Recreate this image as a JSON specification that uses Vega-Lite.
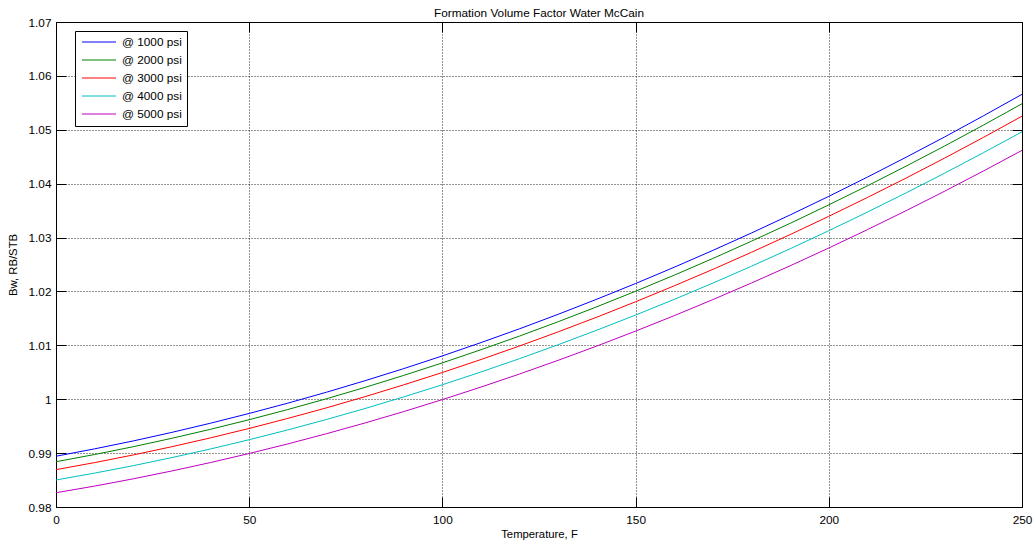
{
  "$schema": "https://vega.github.io/schema/vega-lite/v6.json",
  "autosize": "none",
  "width": 966,
  "height": 485,
  "padding": {"left": 56, "top": 22, "right": 12, "bottom": 38},
  "background": "white",
  "title": {
    "text": "Formation Volume Factor Water McCain",
    "font": "Liberation Sans",
    "fontSize": 11.8,
    "fontWeight": "normal",
    "color": "black",
    "anchor": "middle",
    "baseline": "alphabetic",
    "offset": -12
  },
  "config": {
    "view": {"stroke": "black", "strokeWidth": 1},
    "axis": {
      "labelFont": "Liberation Sans",
      "labelFontSize": 11.8,
      "labelColor": "black",
      "labelFlush": false,
      "titleFont": "Liberation Sans",
      "titleFontSize": 11.3,
      "titleFontWeight": "normal",
      "titleColor": "black",
      "domain": false,
      "tickColor": "black",
      "tickSize": -10,
      "tickWidth": 1,
      "gridColor": "black",
      "gridDash": [1, 2],
      "gridOpacity": 0.85,
      "gridWidth": 1
    },
    "legend": {
      "labelFont": "Liberation Sans",
      "labelFontSize": 11.8,
      "labelColor": "black"
    }
  },
  "data": {
    "values": [
      {"temperature": 0, "pressure": "@ 1000 psi", "bw": 0.98942},
      {"temperature": 10, "pressure": "@ 1000 psi", "bw": 0.99079},
      {"temperature": 20, "pressure": "@ 1000 psi", "bw": 0.99226},
      {"temperature": 30, "pressure": "@ 1000 psi", "bw": 0.99385},
      {"temperature": 40, "pressure": "@ 1000 psi", "bw": 0.99555},
      {"temperature": 50, "pressure": "@ 1000 psi", "bw": 0.99736},
      {"temperature": 60, "pressure": "@ 1000 psi", "bw": 0.99927},
      {"temperature": 70, "pressure": "@ 1000 psi", "bw": 1.00130},
      {"temperature": 80, "pressure": "@ 1000 psi", "bw": 1.00344},
      {"temperature": 90, "pressure": "@ 1000 psi", "bw": 1.00568},
      {"temperature": 100, "pressure": "@ 1000 psi", "bw": 1.00804},
      {"temperature": 110, "pressure": "@ 1000 psi", "bw": 1.01051},
      {"temperature": 120, "pressure": "@ 1000 psi", "bw": 1.01308},
      {"temperature": 130, "pressure": "@ 1000 psi", "bw": 1.01577},
      {"temperature": 140, "pressure": "@ 1000 psi", "bw": 1.01857},
      {"temperature": 150, "pressure": "@ 1000 psi", "bw": 1.02147},
      {"temperature": 160, "pressure": "@ 1000 psi", "bw": 1.02449},
      {"temperature": 170, "pressure": "@ 1000 psi", "bw": 1.02762},
      {"temperature": 180, "pressure": "@ 1000 psi", "bw": 1.03085},
      {"temperature": 190, "pressure": "@ 1000 psi", "bw": 1.03420},
      {"temperature": 200, "pressure": "@ 1000 psi", "bw": 1.03765},
      {"temperature": 210, "pressure": "@ 1000 psi", "bw": 1.04122},
      {"temperature": 220, "pressure": "@ 1000 psi", "bw": 1.04490},
      {"temperature": 230, "pressure": "@ 1000 psi", "bw": 1.04868},
      {"temperature": 240, "pressure": "@ 1000 psi", "bw": 1.05258},
      {"temperature": 250, "pressure": "@ 1000 psi", "bw": 1.05658},

      {"temperature": 0, "pressure": "@ 2000 psi", "bw": 0.98840},
      {"temperature": 10, "pressure": "@ 2000 psi", "bw": 0.98974},
      {"temperature": 20, "pressure": "@ 2000 psi", "bw": 0.99119},
      {"temperature": 30, "pressure": "@ 2000 psi", "bw": 0.99275},
      {"temperature": 40, "pressure": "@ 2000 psi", "bw": 0.99442},
      {"temperature": 50, "pressure": "@ 2000 psi", "bw": 0.99620},
      {"temperature": 60, "pressure": "@ 2000 psi", "bw": 0.99809},
      {"temperature": 70, "pressure": "@ 2000 psi", "bw": 1.00009},
      {"temperature": 80, "pressure": "@ 2000 psi", "bw": 1.00220},
      {"temperature": 90, "pressure": "@ 2000 psi", "bw": 1.00442},
      {"temperature": 100, "pressure": "@ 2000 psi", "bw": 1.00675},
      {"temperature": 110, "pressure": "@ 2000 psi", "bw": 1.00919},
      {"temperature": 120, "pressure": "@ 2000 psi", "bw": 1.01173},
      {"temperature": 130, "pressure": "@ 2000 psi", "bw": 1.01439},
      {"temperature": 140, "pressure": "@ 2000 psi", "bw": 1.01716},
      {"temperature": 150, "pressure": "@ 2000 psi", "bw": 1.02004},
      {"temperature": 160, "pressure": "@ 2000 psi", "bw": 1.02302},
      {"temperature": 170, "pressure": "@ 2000 psi", "bw": 1.02612},
      {"temperature": 180, "pressure": "@ 2000 psi", "bw": 1.02933},
      {"temperature": 190, "pressure": "@ 2000 psi", "bw": 1.03264},
      {"temperature": 200, "pressure": "@ 2000 psi", "bw": 1.03607},
      {"temperature": 210, "pressure": "@ 2000 psi", "bw": 1.03960},
      {"temperature": 220, "pressure": "@ 2000 psi", "bw": 1.04325},
      {"temperature": 230, "pressure": "@ 2000 psi", "bw": 1.04700},
      {"temperature": 240, "pressure": "@ 2000 psi", "bw": 1.05086},
      {"temperature": 250, "pressure": "@ 2000 psi", "bw": 1.05483},

      {"temperature": 0, "pressure": "@ 3000 psi", "bw": 0.98693},
      {"temperature": 10, "pressure": "@ 3000 psi", "bw": 0.98824},
      {"temperature": 20, "pressure": "@ 3000 psi", "bw": 0.98966},
      {"temperature": 30, "pressure": "@ 3000 psi", "bw": 0.99119},
      {"temperature": 40, "pressure": "@ 3000 psi", "bw": 0.99283},
      {"temperature": 50, "pressure": "@ 3000 psi", "bw": 0.99458},
      {"temperature": 60, "pressure": "@ 3000 psi", "bw": 0.99644},
      {"temperature": 70, "pressure": "@ 3000 psi", "bw": 0.99840},
      {"temperature": 80, "pressure": "@ 3000 psi", "bw": 1.00048},
      {"temperature": 90, "pressure": "@ 3000 psi", "bw": 1.00267},
      {"temperature": 100, "pressure": "@ 3000 psi", "bw": 1.00496},
      {"temperature": 110, "pressure": "@ 3000 psi", "bw": 1.00737},
      {"temperature": 120, "pressure": "@ 3000 psi", "bw": 1.00989},
      {"temperature": 130, "pressure": "@ 3000 psi", "bw": 1.01251},
      {"temperature": 140, "pressure": "@ 3000 psi", "bw": 1.01524},
      {"temperature": 150, "pressure": "@ 3000 psi", "bw": 1.01809},
      {"temperature": 160, "pressure": "@ 3000 psi", "bw": 1.02104},
      {"temperature": 170, "pressure": "@ 3000 psi", "bw": 1.02410},
      {"temperature": 180, "pressure": "@ 3000 psi", "bw": 1.02727},
      {"temperature": 190, "pressure": "@ 3000 psi", "bw": 1.03055},
      {"temperature": 200, "pressure": "@ 3000 psi", "bw": 1.03394},
      {"temperature": 210, "pressure": "@ 3000 psi", "bw": 1.03744},
      {"temperature": 220, "pressure": "@ 3000 psi", "bw": 1.04104},
      {"temperature": 230, "pressure": "@ 3000 psi", "bw": 1.04476},
      {"temperature": 240, "pressure": "@ 3000 psi", "bw": 1.04858},
      {"temperature": 250, "pressure": "@ 3000 psi", "bw": 1.05252},

      {"temperature": 0, "pressure": "@ 4000 psi", "bw": 0.98501},
      {"temperature": 10, "pressure": "@ 4000 psi", "bw": 0.98629},
      {"temperature": 20, "pressure": "@ 4000 psi", "bw": 0.98767},
      {"temperature": 30, "pressure": "@ 4000 psi", "bw": 0.98917},
      {"temperature": 40, "pressure": "@ 4000 psi", "bw": 0.99077},
      {"temperature": 50, "pressure": "@ 4000 psi", "bw": 0.99249},
      {"temperature": 60, "pressure": "@ 4000 psi", "bw": 0.99431},
      {"temperature": 70, "pressure": "@ 4000 psi", "bw": 0.99624},
      {"temperature": 80, "pressure": "@ 4000 psi", "bw": 0.99828},
      {"temperature": 90, "pressure": "@ 4000 psi", "bw": 1.00043},
      {"temperature": 100, "pressure": "@ 4000 psi", "bw": 1.00269},
      {"temperature": 110, "pressure": "@ 4000 psi", "bw": 1.00506},
      {"temperature": 120, "pressure": "@ 4000 psi", "bw": 1.00754},
      {"temperature": 130, "pressure": "@ 4000 psi", "bw": 1.01012},
      {"temperature": 140, "pressure": "@ 4000 psi", "bw": 1.01282},
      {"temperature": 150, "pressure": "@ 4000 psi", "bw": 1.01562},
      {"temperature": 160, "pressure": "@ 4000 psi", "bw": 1.01853},
      {"temperature": 170, "pressure": "@ 4000 psi", "bw": 1.02155},
      {"temperature": 180, "pressure": "@ 4000 psi", "bw": 1.02468},
      {"temperature": 190, "pressure": "@ 4000 psi", "bw": 1.02792},
      {"temperature": 200, "pressure": "@ 4000 psi", "bw": 1.03127},
      {"temperature": 210, "pressure": "@ 4000 psi", "bw": 1.03473},
      {"temperature": 220, "pressure": "@ 4000 psi", "bw": 1.03829},
      {"temperature": 230, "pressure": "@ 4000 psi", "bw": 1.04196},
      {"temperature": 240, "pressure": "@ 4000 psi", "bw": 1.04574},
      {"temperature": 250, "pressure": "@ 4000 psi", "bw": 1.04963},

      {"temperature": 0, "pressure": "@ 5000 psi", "bw": 0.98265},
      {"temperature": 10, "pressure": "@ 5000 psi", "bw": 0.98388},
      {"temperature": 20, "pressure": "@ 5000 psi", "bw": 0.98523},
      {"temperature": 30, "pressure": "@ 5000 psi", "bw": 0.98669},
      {"temperature": 40, "pressure": "@ 5000 psi", "bw": 0.98825},
      {"temperature": 50, "pressure": "@ 5000 psi", "bw": 0.98993},
      {"temperature": 60, "pressure": "@ 5000 psi", "bw": 0.99171},
      {"temperature": 70, "pressure": "@ 5000 psi", "bw": 0.99360},
      {"temperature": 80, "pressure": "@ 5000 psi", "bw": 0.99560},
      {"temperature": 90, "pressure": "@ 5000 psi", "bw": 0.99771},
      {"temperature": 100, "pressure": "@ 5000 psi", "bw": 0.99993},
      {"temperature": 110, "pressure": "@ 5000 psi", "bw": 1.00226},
      {"temperature": 120, "pressure": "@ 5000 psi", "bw": 1.00469},
      {"temperature": 130, "pressure": "@ 5000 psi", "bw": 1.00723},
      {"temperature": 140, "pressure": "@ 5000 psi", "bw": 1.00988},
      {"temperature": 150, "pressure": "@ 5000 psi", "bw": 1.01264},
      {"temperature": 160, "pressure": "@ 5000 psi", "bw": 1.01551},
      {"temperature": 170, "pressure": "@ 5000 psi", "bw": 1.01849},
      {"temperature": 180, "pressure": "@ 5000 psi", "bw": 1.02157},
      {"temperature": 190, "pressure": "@ 5000 psi", "bw": 1.02476},
      {"temperature": 200, "pressure": "@ 5000 psi", "bw": 1.02806},
      {"temperature": 210, "pressure": "@ 5000 psi", "bw": 1.03147},
      {"temperature": 220, "pressure": "@ 5000 psi", "bw": 1.03499},
      {"temperature": 230, "pressure": "@ 5000 psi", "bw": 1.03861},
      {"temperature": 240, "pressure": "@ 5000 psi", "bw": 1.04234},
      {"temperature": 250, "pressure": "@ 5000 psi", "bw": 1.04618}
    ]
  },
  "layer": [
    {
      "mark": {"type": "line", "strokeWidth": 1, "interpolate": "monotone"},
      "encoding": {
        "x": {
          "field": "temperature",
          "type": "quantitative",
          "scale": {"domain": [0, 250], "nice": false, "zero": false},
          "axis": {
            "orient": "bottom",
            "title": "Temperature, F",
            "values": [0, 50, 100, 150, 200, 250],
            "grid": true,
            "labelPadding": 17,
            "titlePadding": 3
          }
        },
        "y": {
          "field": "bw",
          "type": "quantitative",
          "scale": {"domain": [0.98, 1.07], "nice": false, "zero": false},
          "axis": {
            "orient": "left",
            "title": "Bw, RB/STB",
            "values": [0.98, 0.99, 1, 1.01, 1.02, 1.03, 1.04, 1.05, 1.06, 1.07],
            "format": "~g",
            "grid": true,
            "labelPadding": 15,
            "titlePadding": 10
          }
        },
        "color": {
          "field": "pressure",
          "type": "nominal",
          "scale": {
            "domain": ["@ 1000 psi", "@ 2000 psi", "@ 3000 psi", "@ 4000 psi", "@ 5000 psi"],
            "range": ["#0000ff", "#008000", "#ff0000", "#00bfbf", "#bf00bf"]
          },
          "legend": {
            "title": null,
            "orient": "none",
            "legendX": 19,
            "legendY": 9,
            "direction": "vertical",
            "padding": 4.5,
            "strokeColor": "black",
            "fillColor": "white",
            "symbolType": "M-0.667,0H5",
            "symbolSize": 144,
            "symbolStrokeWidth": 1,
            "labelOffset": 29.5,
            "rowPadding": 4
          }
        }
      }
    },
    {
      "mark": {"type": "line", "strokeOpacity": 0},
      "encoding": {
        "x": {
          "field": "temperature",
          "type": "quantitative",
          "axis": {
            "orient": "top",
            "title": null,
            "labels": false,
            "grid": false,
            "values": [0, 50, 100, 150, 200, 250]
          }
        },
        "y": {
          "field": "bw",
          "type": "quantitative",
          "axis": {
            "orient": "right",
            "title": null,
            "labels": false,
            "grid": false,
            "values": [0.98, 0.99, 1, 1.01, 1.02, 1.03, 1.04, 1.05, 1.06, 1.07]
          }
        },
        "detail": {"field": "pressure"}
      }
    }
  ],
  "resolve": {"axis": {"x": "independent", "y": "independent"}}
}
